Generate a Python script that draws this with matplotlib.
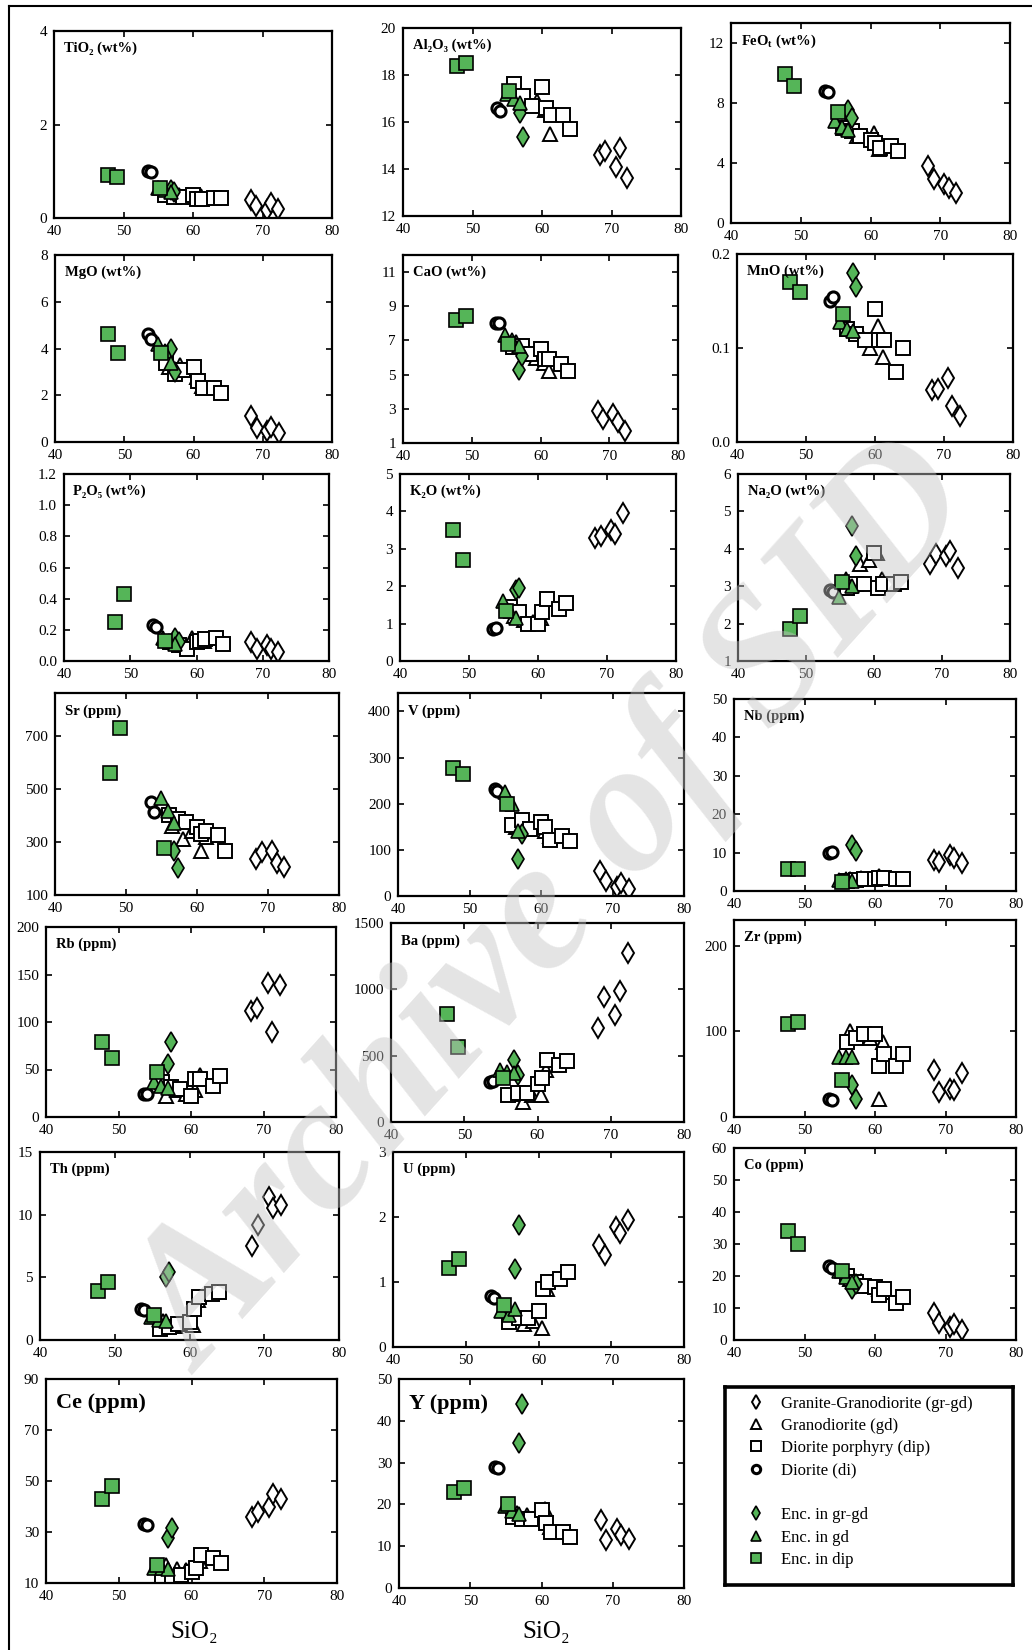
import matplotlib.pyplot as plt
from matplotlib.lines import Line2D

plt.rcParams['font.family'] = ['Liberation Serif', 'DejaVu Serif', 'DejaVu Sans']
plt.rcParams['mathtext.default'] = 'regular'

# SiO2 (wt%) of the samples in each group
si_grgd = [68.3, 69.1, 70.6, 71.2, 72.3]
si_gd = [56.5, 58.0, 59.3, 60.5, 61.2]
si_dip = [56.0, 57.3, 58.5, 60.0, 60.6, 61.3, 63.0, 64.0]
si_di = [53.5, 53.9]
si_enc_grgd = [56.8, 57.3]
si_enc_gd = [54.9, 55.9, 56.8]
si_enc_dip = [47.7, 49.1, 55.3]
sio2 = [si_grgd, si_gd, si_dip, si_di, si_enc_grgd, si_enc_gd, si_enc_dip]

group_labels = ['Granite-Granodiorite (gr-gd)', 'Granodiorite (gd)',
                'Diorite porphyry (dip)', 'Diorite (di)',
                'Enc. in gr-gd', 'Enc. in gd', 'Enc. in dip']

# element values, groups in the same order as sio2
tio2 = [[0.39, 0.25, 0.18, 0.32, 0.2], [0.55, 0.5, 0.5, 0.45, 0.48],
        [0.5, 0.45, 0.45, 0.5, 0.4, 0.4, 0.42, 0.42], [1.0, 0.98],
        [0.6, 0.55], [0.65, 0.6, 0.55], [0.93, 0.87, 0.64]]
al2o3 = [[14.6, 14.75, 14.1, 14.9, 13.6], [17.2, 16.8, 16.9, 16.5, 15.5],
         [17.6, 17.1, 16.7, 17.5, 16.6, 16.3, 16.3, 15.7], [16.6, 16.45],
         [16.4, 15.35], [17.2, 17.0, 16.8], [18.4, 18.5, 17.3]]
feot = [[3.8, 2.9, 2.6, 2.3, 2.0], [6.5, 5.8, 5.8, 6.0, 4.9],
        [6.3, 6.1, 5.8, 5.5, 5.3, 5.0, 5.1, 4.8], [8.8, 8.7],
        [7.5, 7.0], [6.8, 6.4, 6.2], [9.9, 9.1, 7.4]]
mgo = [[1.1, 0.6, 0.45, 0.65, 0.4], [3.2, 3.3, 3.1, 2.8, 2.4],
       [3.4, 2.9, 3.1, 3.2, 2.6, 2.3, 2.3, 2.1], [4.6, 4.4],
       [4.0, 3.0], [4.2, 3.9, 3.4], [4.6, 3.8, 3.8]]
cao = [[2.9, 2.4, 2.7, 2.2, 1.7], [6.9, 6.2, 6.0, 5.7, 5.2],
       [6.6, 6.7, 6.2, 6.5, 5.9, 5.9, 5.6, 5.2], [8.05, 8.0],
       [5.3, 6.1], [7.3, 7.0, 6.7], [8.2, 8.45, 6.8]]
mno = [[0.055, 0.056, 0.068, 0.038, 0.028], [0.12, 0.115, 0.1, 0.123, 0.09],
       [0.12, 0.115, 0.108, 0.142, 0.108, 0.108, 0.074, 0.1], [0.15, 0.154],
       [0.18, 0.165], [0.128, 0.12, 0.118], [0.17, 0.16, 0.136]]
p2o5 = [[0.12, 0.08, 0.1, 0.08, 0.06], [0.12, 0.1, 0.15, 0.14, 0.13],
        [0.12, 0.1, 0.08, 0.12, 0.13, 0.14, 0.15, 0.11], [0.23, 0.22],
        [0.15, 0.12], [0.15, 0.13, 0.11], [0.25, 0.43, 0.13]]
k2o = [[3.3, 3.35, 3.5, 3.4, 3.95], [1.2, 1.1, 1.05, 1.15, 1.65],
       [1.45, 1.3, 1.0, 1.0, 1.3, 1.65, 1.4, 1.55], [0.85, 0.87],
       [1.9, 1.95], [1.6, 1.35, 1.15], [3.5, 2.7, 1.35]]
na2o = [[3.6, 3.85, 3.8, 3.95, 3.5], [3.0, 3.6, 3.7, 3.9, 3.2],
        [2.95, 3.05, 3.05, 3.9, 2.95, 3.05, 3.05, 3.1], [2.9, 2.85],
        [4.6, 3.8], [2.7, 3.2, 3.0], [1.85, 2.2, 3.1]]
sr = [[235, 262, 265, 220, 205], [360, 310, 340, 265, 320],
      [400, 385, 375, 355, 330, 340, 325, 265], [450, 412],
      [265, 200], [465, 415, 372], [560, 730, 275]]
v = [[55, 33, 20, 28, 15], [150, 145, 150, 140, 130],
     [153, 165, 145, 160, 150, 121, 129, 120], [233, 228],
     [80, 135], [225, 200, 140], [278, 264, 200]]
nb = [[8.0, 7.6, 9.3, 8.5, 7.2], [3.0, 3.5, 3.2, 3.8, 3.5],
      [2.5, 2.8, 3.0, 3.2, 3.4, 3.3, 3.2, 3.2], [9.8, 10.2],
      [12.0, 10.5], [2.8, 3.0, 2.5], [5.8, 5.8, 2.4]]
rb = [[112, 115, 141, 89, 139], [22, 28, 24, 28, 44],
      [37, 32, 30, 22, 40, 40, 33, 43], [24.6, 24],
      [56, 79], [37, 33, 31], [79, 62, 47]]
ba = [[710, 945, 810, 990, 1275], [210, 150, 200, 205, 390],
      [200, 215, 215, 290, 330, 465, 430, 460], [300, 310],
      [465, 355], [390, 378, 370], [815, 565, 330]]
zr = [[55, 29, 33, 31, 51], [100, 97, 92, 21, 88],
      [88, 92, 97, 97, 60, 74, 60, 74], [21, 20],
      [37, 21], [70, 70, 70], [109, 111, 43]]
th = [[7.5, 9.2, 11.4, 10.5, 10.8], [1.5, 1.1, 1.3, 1.2, 3.2],
      [0.9, 1.0, 1.3, 1.4, 2.5, 3.4, 3.7, 3.8], [2.5, 2.4],
      [5.0, 5.4], [1.8, 1.6, 1.5], [3.9, 4.6, 2.0]]
u = [[1.57, 1.42, 1.85, 1.75, 1.95], [0.45, 0.35, 0.4, 0.3, 0.9],
     [0.38, 0.45, 0.45, 0.55, 0.9, 1.0, 1.05, 1.15], [0.78, 0.75],
     [1.2, 1.87], [0.55, 0.5, 0.58], [1.22, 1.35, 0.65]]
co = [[8.5, 5.2, 4.0, 5.0, 3.0], [19, 18.5, 17, 16, 15],
      [20, 18, 17, 16.5, 14, 16, 11.5, 13.5], [23, 22.5],
      [16, 17.5], [21.5, 19.8, 18], [34, 30, 21.5]]
ce = [[36, 38, 40, 45, 43], [17, 15.5, 15, 16, 18.5],
      [12.5, 12.3, 13, 14.5, 15.8, 21, 19.8, 17.8], [33, 32.8],
      [27.6, 31.6], [16, 15.8, 15.5], [43, 48, 17]]
y_ppm = [[16.2, 11.5, 14.2, 12.6, 11.8], [18, 17.5, 17.7, 19, 14.5],
         [17, 16.5, 16.5, 18.6, 15.5, 13.4, 13.4, 12.2], [29, 28.8],
         [34.8, 44], [19.5, 18.5, 17.8], [23, 24, 20]]

GREEN = '#55b558'
styles = [
    dict(marker='d', ms=10, mfc='white', mew=1.4),
    dict(marker='^', ms=10, mfc='white', mew=1.4),
    dict(marker='s', ms=10, mfc='white', mew=1.4),
    dict(marker='o', ms=8, mfc='white', mew=2.2),
    dict(marker='d', ms=10, mfc=GREEN, mew=1.2),
    dict(marker='^', ms=10, mfc=GREEN, mew=1.2),
    dict(marker='s', ms=10, mfc=GREEN, mew=1.2),
]

# label, values, y range, y ticks, tick format, box in pixels (left, top, right, bottom)
panels = [
    ('TiO₂ (wt%)', tio2, (0, 4), [0, 2, 4], '%g', (54, 31, 332, 218)),
    ('Al₂O₃ (wt%)', al2o3, (12, 20), [12, 14, 16, 18, 20], '%g', (403, 28, 681, 216)),
    ('FeO$_t$ (wt%)', feot, (0, 13.3), [0, 4, 8, 12], '%g', (731, 23, 1010, 223)),
    ('MgO (wt%)', mgo, (0, 8), [0, 2, 4, 6, 8], '%g', (55, 255, 332, 442)),
    ('CaO (wt%)', cao, (1, 12), [1, 3, 5, 7, 9, 11], '%g', (403, 255, 678, 443)),
    ('MnO (wt%)', mno, (0, 0.2), [0, 0.1, 0.2], '%.1f', (737, 254, 1013, 442)),
    ('P₂O₅ (wt%)', p2o5, (0, 1.2), [0, 0.2, 0.4, 0.6, 0.8, 1.0, 1.2], '%.1f', (64, 474, 329, 661)),
    ('K₂O (wt%)', k2o, (0, 5), [0, 1, 2, 3, 4, 5], '%g', (400, 474, 676, 661)),
    ('Na₂O (wt%)', na2o, (1, 6), [1, 2, 3, 4, 5, 6], '%g', (738, 474, 1010, 661)),
    ('Sr (ppm)', sr, (100, 860), [100, 300, 500, 700], '%g', (55, 693, 339, 895)),
    ('V (ppm)', v, (0, 440), [0, 100, 200, 300, 400], '%g', (398, 693, 684, 896)),
    ('Nb (ppm)', nb, (0, 50), [0, 10, 20, 30, 40, 50], '%g', (734, 699, 1016, 891)),
    ('Rb (ppm)', rb, (0, 200), [0, 50, 100, 150, 200], '%g', (46, 927, 336, 1117)),
    ('Ba (ppm)', ba, (0, 1500), [0, 500, 1000, 1500], '%g', (391, 923, 684, 1122)),
    ('Zr (ppm)', zr, (0, 230), [0, 100, 200], '%g', (734, 920, 1016, 1117)),
    ('Th (ppm)', th, (0, 15), [0, 5, 10, 15], '%g', (40, 1152, 339, 1340)),
    ('U (ppm)', u, (0, 3), [0, 1, 2, 3], '%g', (393, 1152, 684, 1347)),
    ('Co (ppm)', co, (0, 60), [0, 10, 20, 30, 40, 50, 60], '%g', (734, 1148, 1016, 1340)),
    ('Ce (ppm)', ce, (10, 90), [10, 30, 50, 70, 90], '%g', (46, 1379, 337, 1583)),
    ('Y (ppm)', y_ppm, (0, 50), [0, 10, 20, 30, 40, 50], '%g', (399, 1379, 684, 1588)),
]

W, H = 1032, 1650
fig = plt.figure(figsize=(W / 100, H / 100), dpi=100)


def px_axes(l, t, r, b):
    return fig.add_axes([l / W, 1 - b / H, (r - l) / W, (b - t) / H])


for label, vals, ylim, yticks, fmt, box in panels:
    ax = px_axes(*box)
    for xs, ys, st in zip(sio2, vals, styles):
        ax.plot(xs, ys, ls='none', mec='black', **st)
    ax.set_xlim(40, 80)
    ax.set_ylim(*ylim)
    ax.set_xticks([40, 50, 60, 70, 80])
    ax.set_yticks(yticks)
    ax.set_yticklabels([fmt % t for t in yticks])
    ax.tick_params(direction='in', top=True, right=True, length=4, width=1.2,
                   labelsize=11, pad=5)
    for sp in ax.spines.values():
        sp.set_linewidth(1.6)
    big = label[:2] in ('Ce', 'Y ')
    ax.text(0.035, 0.88 if big else 0.91, label, transform=ax.transAxes,
            fontweight='bold', fontsize=16 if big else 10.5, va='center')

for xc in (194, 546):
    fig.text(xc / W, 1 - 1632 / H, 'SiO₂', fontsize=18, ha='center', va='center')

# legend box
lax = px_axes(725, 1387, 1013, 1585)
lax.set_xticks([])
lax.set_yticks([])
for sp in lax.spines.values():
    sp.set_linewidth(2.6)
handles, labels = [], []
for i, (st, lab) in enumerate(zip(styles, group_labels)):
    if i == 4:
        handles.append(Line2D([], [], ls='none'))
        labels.append(' ')
    hs = dict(st)
    hs['ms'] = st['ms'] * 0.75
    handles.append(Line2D([], [], ls='none', mec='black', **hs))
    labels.append(lab)
lax.legend(handles, labels, loc='upper left', bbox_to_anchor=(0.05, 0.99),
           frameon=False, fontsize=12, handlelength=1.2, handletextpad=0.9,
           labelspacing=0.38, borderaxespad=0, borderpad=0.4)

# page frame
fig.add_artist(Line2D([9 / W, 9 / W], [0, 1 - 6 / H], color='black', lw=1.5))
fig.add_artist(Line2D([9 / W, 1], [1 - 6 / H, 1 - 6 / H], color='black', lw=1.5))

# watermark
fig.text(0.54, 0.448, 'Archive of SID', rotation=48, fontsize=135,
         fontweight='bold', fontstyle='italic', color='#c4c4c4', alpha=0.45,
         ha='center', va='center', zorder=10)

fig.savefig('out.png', dpi=100)
